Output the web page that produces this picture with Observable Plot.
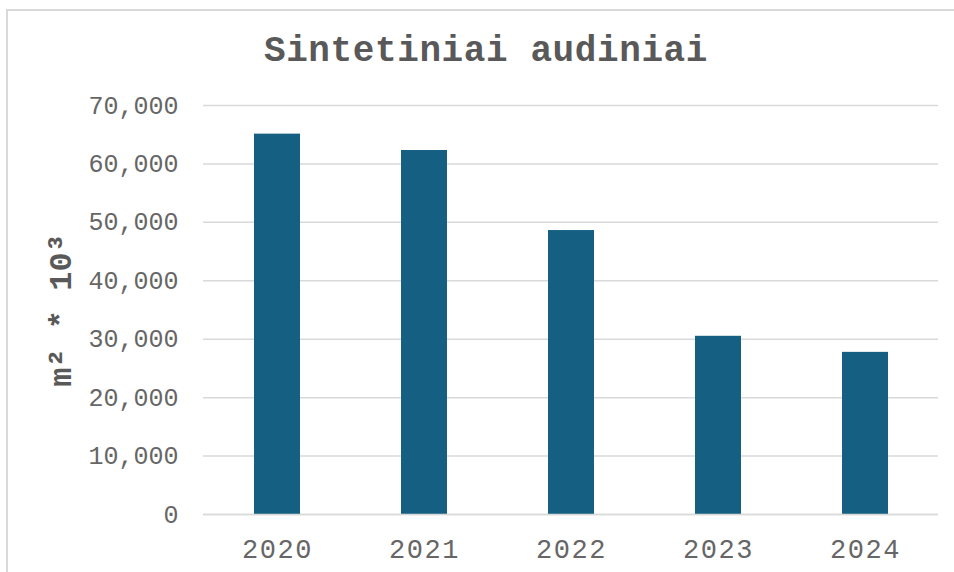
<!DOCTYPE html>
<html>
<head>
<meta charset="utf-8">
<script src="https://cdn.jsdelivr.net/npm/d3@7"></script>
<script src="https://cdn.jsdelivr.net/npm/@observablehq/plot@0.6"></script>
<style>
  html, body { margin: 0; padding: 0; background: #fff; overflow: hidden; width: 954px; height: 572px; }
  #wrap { position: relative; width: 954px; height: 572px; }
  #frame { position: absolute; left: 6px; top: 9px; width: 1000px; height: 700px; border: 2px solid #d9d9d9; box-sizing: border-box; }
  #title { position: absolute; left: 0; width: 972px; top: 31px; text-align: center; font-family: 'Liberation Mono', 'Courier New', monospace; font-weight: bold; font-size: 36px; color: #595959; letter-spacing: 0.6px; }
  #chart { position: absolute; left: 0; top: 0; }
  #chart svg { overflow: visible; }
  g[aria-label="y-axis label"] text { font-weight: bold; font-size: 32px; fill: #595959; }
  g[aria-label="y-axis tick label"] text { font-size: 25px; fill: #666666; }
  g[aria-label="x-axis tick label"] text { font-size: 27px; fill: #666666; letter-spacing: 1.5px; }
</style>
</head>
<body>
<div id="wrap">
  <div id="frame"></div>
  <div id="title">Sintetiniai audiniai</div>
  <div id="chart"></div>
</div>
<script>
const years = ["2020", "2021", "2022", "2023", "2024"];
const values = [65100, 62300, 48600, 30500, 27750];
const yTicks = [0, 10000, 20000, 30000, 40000, 50000, 60000, 70000];
const titleText = "Sintetiniai audiniai";
const yLabel = "m² * 10³";

const data = years.map((y, i) => ({ year: y, value: values[i] }));

const chart = Plot.plot({
  width: 954,
  height: 572,
  marginLeft: 203,
  marginRight: 16,
  marginTop: 105,
  marginBottom: 58,
  style: { fontFamily: "'Liberation Mono', 'Courier New', monospace", background: "transparent", color: "#595959" },
  x: { domain: years, paddingInner: 0.688, paddingOuter: 0.34, label: null },
  y: { domain: [0, 70000], label: yLabel },
  marks: [
    Plot.gridY(yTicks, { stroke: "#d9d9d9", strokeWidth: 1.5, strokeOpacity: 1 }),
    Plot.barY(data, { x: "year", y: "value", fill: "#156082" }),
    Plot.ruleY([0], { stroke: "#d9d9d9", strokeWidth: 1.5 }),
    Plot.axisY({ ticks: yTicks, tickSize: 0, tickPadding: 25, tickFormat: d3.format(","), label: yLabel, labelAnchor: "center", labelArrow: "none", labelOffset: 155 }),
    Plot.axisX({ tickSize: 0, tickPadding: 24, label: null })
  ]
});
document.getElementById("chart").appendChild(chart);
</script>
</body>
</html>
